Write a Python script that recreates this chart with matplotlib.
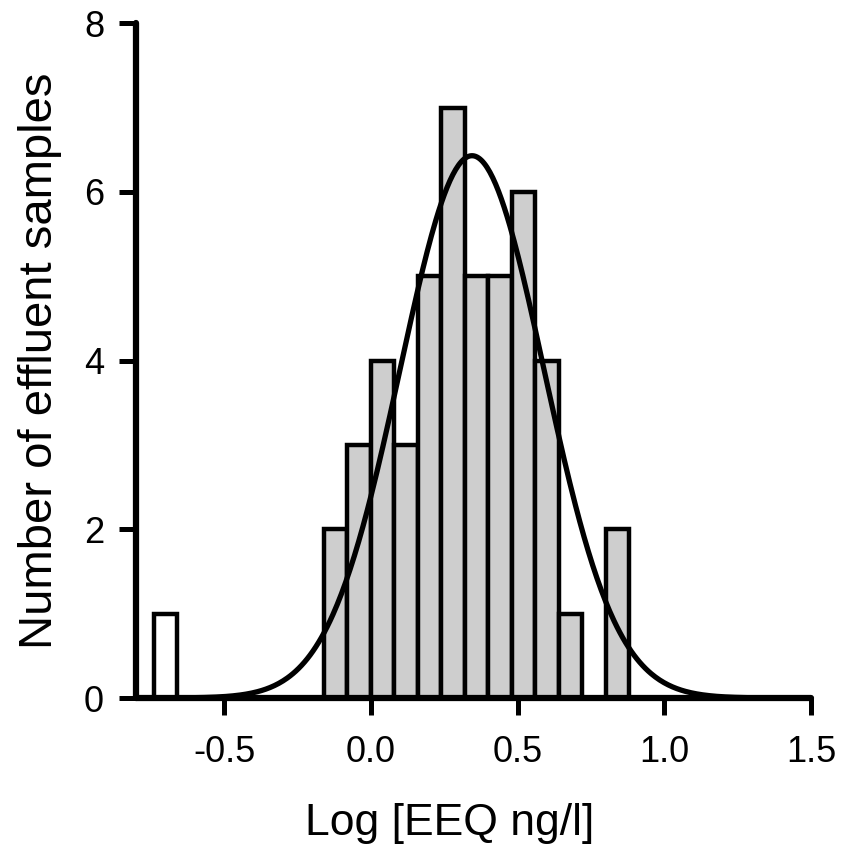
import numpy as np
import matplotlib
matplotlib.use("Agg")
import matplotlib.pyplot as plt

plt.rcParams['font.family'] = ['Liberation Sans', 'DejaVu Sans']

# Histogram data (bin left edges, counts)
bin_left = [-0.16, -0.08, 0.00, 0.08, 0.16, 0.24, 0.32, 0.40, 0.48, 0.56, 0.64, 0.72, 0.80]
counts   = [2, 3, 4, 3, 5, 7, 5, 5, 6, 4, 1, 0, 2]
bin_width = 0.08

# Outlier (open bar)
outlier_left = [-0.74]
outlier_count = [1]

# Fitted normal curve parameters
fit_mean = 0.345
fit_sd = 0.245
fit_peak = 6.43
curve_range = (-0.62, 1.32)

x_ticks = [-0.5, 0.0, 0.5, 1.0, 1.5]
x_ticklabels = ["-0.5", "0.0", "0.5", "1.0", "1.5"]
y_ticks = [0, 2, 4, 6, 8]

fig = plt.figure(figsize=(8.43, 8.47), dpi=100)
ax = fig.add_axes([136/843, 1-698/847, (811-136)/843, (698-23.3)/847])

ax.bar(bin_left, counts, width=bin_width, align='edge', color='#cecece',
       edgecolor='black', linewidth=3.2, zorder=2)
ax.bar(outlier_left, outlier_count, width=bin_width, align='edge', color='white',
       edgecolor='black', linewidth=3.2, zorder=2)

xc = np.linspace(curve_range[0], curve_range[1], 400)
yc = fit_peak * np.exp(-0.5 * ((xc - fit_mean) / fit_sd) ** 2)
ax.plot(xc, yc, color='black', linewidth=3.8, zorder=3, solid_capstyle='round')

ax.set_xlim(-0.8, 1.5)
ax.set_ylim(0, 8)
ax.set_xticks(x_ticks)
ax.set_xticklabels(x_ticklabels)
ax.set_yticks(y_ticks)

for s in ['top', 'right']:
    ax.spines[s].set_visible(False)
for s in ['left', 'bottom']:
    ax.spines[s].set_linewidth(4.5)
    ax.spines[s].set_capstyle('round')
    ax.spines[s].set_zorder(4)

ax.tick_params(axis='both', direction='out', length=12, width=3.6, labelsize=26,
               colors='black')
ax.tick_params(axis='x', pad=15)
ax.tick_params(axis='y', pad=11)

ax.set_xlabel("Log [EEQ ng/l]", fontsize=32)
ax.xaxis.set_label_coords(0.465, -0.155)
ax.set_ylabel("Number of effluent samples", fontsize=34)
ax.yaxis.set_label_coords(-0.11, 0.5)

fig.savefig("out.png", dpi=100)
